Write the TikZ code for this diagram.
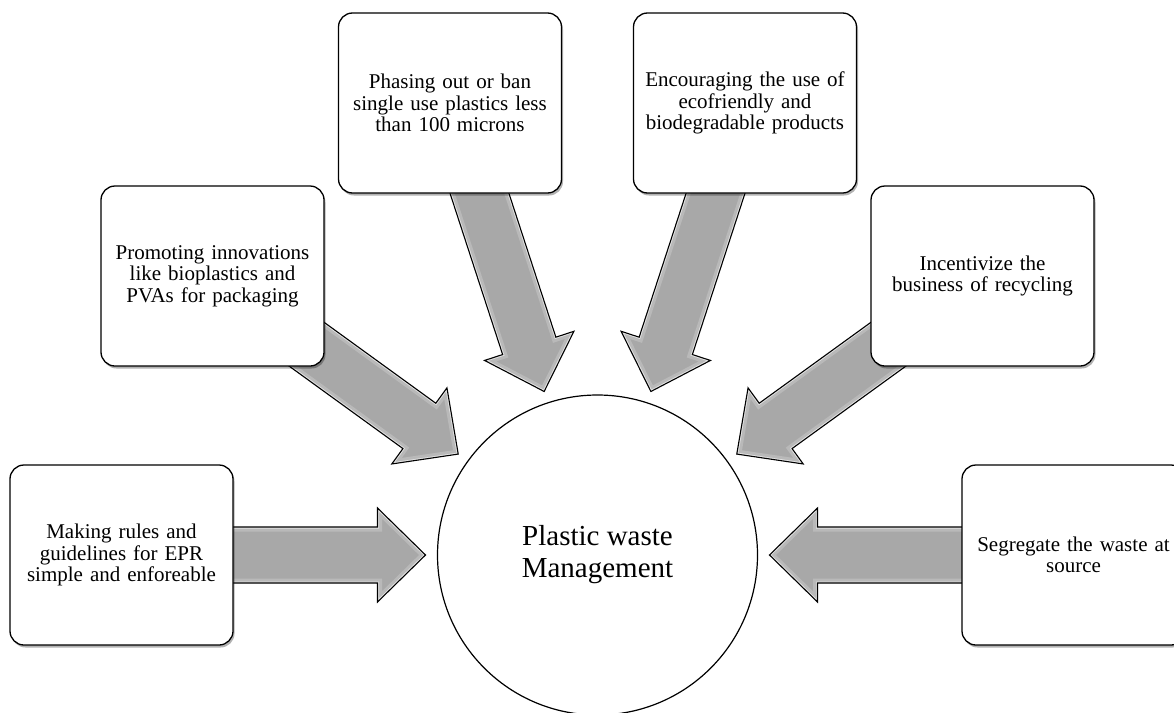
\documentclass[tikz,border=0pt]{standalone}
\usepackage{fontspec}
\setmainfont{Liberation Serif}
\usetikzlibrary{calc,shadows}
\pgfdeclarelayer{bg}
\pgfsetlayers{bg,main}
\definecolor{arrgray}{RGB}{168,168,168}
\tikzset{
  boxnode/.style={draw=black, line width=1.3pt, fill=white, rounded corners=14pt,
    minimum width=223pt, minimum height=180pt, text width=215pt, align=center,
    font=\fontsize{21}{21.5}\selectfont, inner sep=0pt,
    drop shadow={shadow xshift=1.5pt, shadow yshift=-2.5pt, opacity=0.3, fill=black}},
  hubnode/.style={draw=black, circle, line width=1.2pt, fill=white, minimum size=320pt,
    inner sep=0pt, align=center, font=\fontsize{29}{32}\selectfont},
}
\newcommand{\blockarr}[3]{%
  \coordinate (#1t) at ($(#3)!172pt!(#2)$);
  \coordinate (#1h) at ($(#1t)!48pt!(#2)$);
  \coordinate (#1a) at ($(#1h)!47pt!90:(#2)$);
  \coordinate (#1b) at ($(#1h)!28pt!90:(#2)$);
  \coordinate (#1c) at ($(#2)!28pt!-90:(#3)$);
  \coordinate (#1d) at ($(#2)!28pt!90:(#3)$);
  \coordinate (#1e) at ($(#1h)!28pt!-90:(#2)$);
  \coordinate (#1f) at ($(#1h)!47pt!-90:(#2)$);
  \begin{scope}
    \clip (#1t) -- (#1a) -- (#1b) -- (#1c) -- (#1d) -- (#1e) -- (#1f) -- cycle;
    \fill[arrgray] (#1t) -- (#1a) -- (#1b) -- (#1c) -- (#1d) -- (#1e) -- (#1f) -- cycle;
    \draw[white, opacity=.2, line width=9pt, line join=miter] (#1t) -- (#1a) -- (#1b) -- (#1c) -- (#1d) -- (#1e) -- (#1f) -- cycle;
    \draw[white, opacity=.6, line width=3pt, line join=miter] (#1t) -- (#1a) -- (#1b) -- (#1c) -- (#1d) -- (#1e) -- (#1f) -- cycle;
  \end{scope}
  \draw[black, line width=1.1pt, line join=miter] (#1t) -- (#1a) -- (#1b) -- (#1c) -- (#1d) -- (#1e) -- (#1f) -- cycle;
}
\begin{document}
\begin{tikzpicture}[x=1pt, y=-1pt]
\useasboundingbox (0,0) rectangle (1174,712);
\node[hubnode] (hub) at (597.5,555) {Plastic waste\\Management};
\node[boxnode] (b1) at (121.5,555) {Making rules and\\guidelines for EPR\\simple and enforeable};
\node[boxnode] (b2) at (212.5,276) {Promoting innovations\\like bioplastics and\\PVAs for packaging};
\node[boxnode] (b3) at (450,103) {Phasing out or ban\\single use plastics less\\than 100 microns};
\node[boxnode] (b4) at (745,103) {Encouraging the use of\\ecofriendly and\\biodegradable products};
\node[boxnode] (b5) at (982.5,276) {Incentivize the\\business of recycling};
\node[boxnode] (b6) at (1073.5,555) {Segregate the waste at\\source};
\begin{pgfonlayer}{bg}
  \blockarr{a1}{b1}{hub}
  \blockarr{a2}{b2}{hub}
  \blockarr{a3}{b3}{hub}
  \blockarr{a4}{b4}{hub}
  \blockarr{a5}{b5}{hub}
  \blockarr{a6}{b6}{hub}
\end{pgfonlayer}
\end{tikzpicture}
\end{document}
